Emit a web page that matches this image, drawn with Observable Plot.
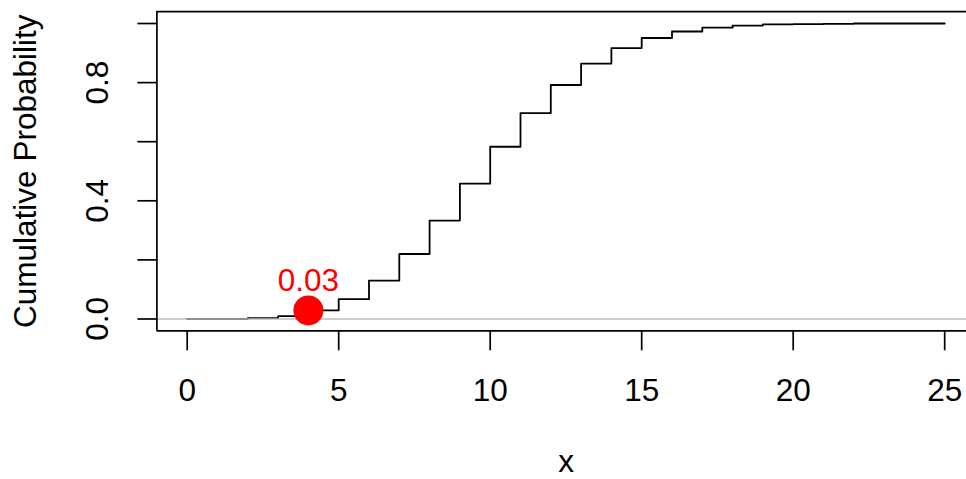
<!DOCTYPE html>
<html>
<head>
<meta charset="utf-8">
<script src="https://cdn.jsdelivr.net/npm/d3@7"></script>
<script src="https://cdn.jsdelivr.net/npm/@observablehq/plot@0.6"></script>
<style>
  html, body { margin: 0; padding: 0; background: #fff; }
  svg { display: block; }
</style>
</head>
<body>
<div id="chart"></div>
<script>
// Values
const xValues = [0,1,2,3,4,5,6,7,8,9,10,11,12,13,14,15,16,17,18,19,20,21,22,23,24,25];
const cumProb = [0.000,0.000,0.003,0.010,0.029,0.067,0.130,0.220,0.333,0.458,0.583,0.697,0.792,0.864,0.917,0.951,0.973,0.986,0.993,0.997,0.998,0.999,1.000,1.000,1.000,1.000];
const highlightX = [4];
const highlightP = [0.029];
const highlightLabel = ["0.03"];
const xTicks = [0,5,10,15,20,25];
const yTicks = [0,0.2,0.4,0.6,0.8,1.0];
const yLabelTicks = [0,0.4,0.8];
const xTitle = "x";
const yTitle = "Cumulative Probability";

const xDomain = [-1, 25.72];
const yDomain = [-0.04, 1.04];

const steps = xValues.map((x, i) => ({x, p: cumProb[i]}));
const hl = highlightX.map((x, i) => ({x, p: highlightP[i], label: highlightLabel[i]}));

const font = "'Liberation Sans', Arial, Helvetica, sans-serif";
const fs = 31.5;

const chart = Plot.plot({
  width: 966,
  height: 479,
  marginLeft: 156.4,
  marginRight: 0,
  marginTop: 11.2,
  marginBottom: 148.7,
  style: {fontFamily: font, fontSize: fs + "px", background: "#fff", color: "#000"},
  x: {domain: xDomain},
  y: {domain: yDomain},
  marks: [
    Plot.line(steps, {x: "x", y: "p", curve: "step-after", stroke: "#000", strokeWidth: 1.8}),
    Plot.ruleY([0], {stroke: "#bebebe", strokeWidth: 1.7}),
    Plot.dot(hl, {x: "x", y: "p", r: 15, fill: "#ff0000", stroke: "none"}),
    Plot.text(hl, {x: "x", y: "p", text: "label", fill: "#ff0000", fontSize: fs, lineAnchor: "bottom", dy: -19}),
    // box (left, top, bottom)
    Plot.ruleY([yDomain[0], yDomain[1]], {stroke: "#000", strokeWidth: 1.7}),
    Plot.ruleX([xDomain[0]], {stroke: "#000", strokeWidth: 1.7}),
    // axes
    Plot.axisX({ticks: xTicks, tickSize: 20, tickPadding: 28, fontSize: fs, strokeWidth: 1.7, label: null}),
    Plot.axisY({ticks: yTicks, tickSize: 19, tickFormat: () => "", strokeWidth: 1.7, label: null}),
    Plot.text(yLabelTicks, {y: d => d, text: d => d.toFixed(1), frameAnchor: "left", dx: -59, rotate: -90, textAnchor: "middle", lineAnchor: "middle", fontSize: fs}),
    Plot.text([xTitle], {text: d => d, frameAnchor: "bottom", dx: 4.3, dy: 141.5, lineAnchor: "bottom", fontSize: fs}),
    Plot.text([yTitle], {text: d => d, frameAnchor: "left", dx: -131, rotate: -90, textAnchor: "middle", lineAnchor: "middle", fontSize: fs})
  ]
});
document.getElementById("chart").appendChild(chart);
</script>
</body>
</html>
